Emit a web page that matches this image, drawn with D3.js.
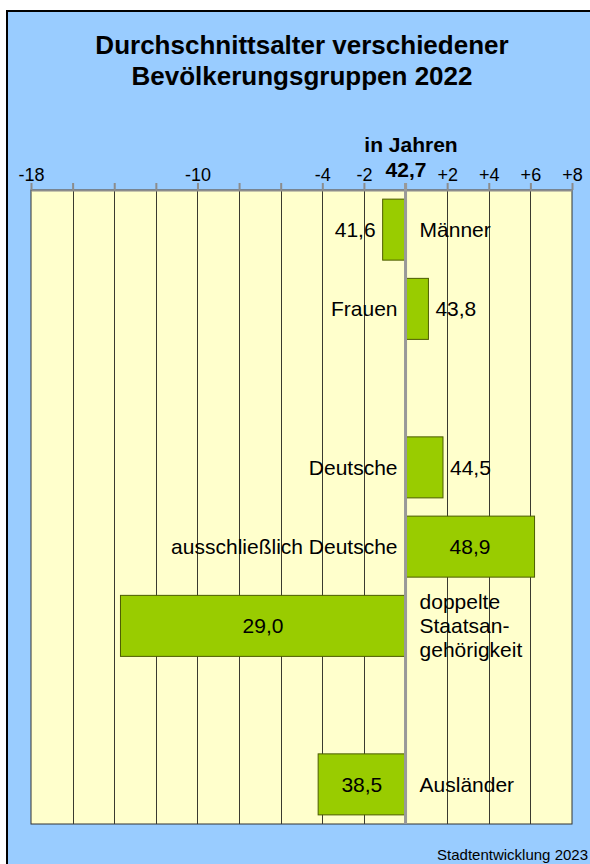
<!DOCTYPE html>
<html>
<head>
<meta charset="utf-8">
<script src="https://cdn.jsdelivr.net/npm/d3@7"></script>
<style>
  body { margin: 0; background: #fff; }
  text { font-family: Arial, "Liberation Sans", sans-serif; fill: #000; }
</style>
</head>
<body>
<div class="chartContainer"></div>
<script>
// ======= data ========
var categories = ["Männer", "Frauen", "Deutsche", "ausschließlich Deutsche", "doppelte|Staatsan-|gehörigkeit", "Ausländer"];
var ages = [41.6, 43.8, 44.5, 48.9, 29.0, 38.5];
var average = 42.7;
var groupStarts = ["Deutsche", "Ausländer"]; // an empty row comes before these
var gridValues = [-18, -16, -14, -12, -10, -8, -6, -4, -2, 0, 2, 4, 6, 8];
var tickLabels = ["-18", "", "", "", "-10", "", "", "-4", "-2", "42,7", "+2", "+4", "+6", "+8"];

var width = 590;
var height = 864;
var plotLeft = 31, plotRight = 572, plotTop = 190, plotBottom = 824;

var fmt = function(v){ return d3.format(".1f")(v).replace(".", ","); };

var data = categories.map(function(c, i){
    return { name: c, age: ages[i], diff: +(ages[i] - average).toFixed(1) };
});

// build the row list with the blank rows between groups
var rows = [];
categories.forEach(function(c, i){
    if (groupStarts.indexOf(c) >= 0) rows.push("gap" + i);
    rows.push(c);
});

var svg = d3.select(".chartContainer")
  .append("svg")
    .attr("width", width)
    .attr("height", height);

// background box
svg.append("rect")
    .attr("x", 7).attr("y", 11)
    .attr("width", 600).attr("height", 880)
    .style("fill", "#99ccff")
    .style("stroke", "#000")
    .style("stroke-width", 2);

// ======= title ========
var title = svg.append("text")
    .attr("x", 302)
    .attr("text-anchor", "middle")
    .style("font-size", "26px")
    .style("font-weight", "bold");
title.append("tspan").attr("x", 302).attr("y", 54).text("Durchschnittsalter verschiedener");
title.append("tspan").attr("x", 302).attr("y", 85).text("Bevölkerungsgruppen 2022");

svg.append("text")
    .attr("x", 411).attr("y", 152)
    .attr("text-anchor", "middle")
    .style("font-size", "21px")
    .style("font-weight", "bold")
    .text("in Jahren");

// ======= scales ========
var x = d3.scaleLinear()
    .domain([-18, 8])
    .range([plotLeft, plotRight]);

var y = d3.scaleBand()
    .domain(rows)
    .range([plotTop, plotBottom])
    .paddingInner(0.23)
    .paddingOuter(0.115);

// ======= plot area ========
svg.append("rect")
    .attr("x", plotLeft).attr("y", plotTop)
    .attr("width", plotRight - plotLeft).attr("height", plotBottom - plotTop)
    .style("fill", "#ffffcc")
    .style("stroke", "#333")
    .style("stroke-width", 1);

svg.append("g").attr("class", "grid")
  .selectAll("line")
    .data(gridValues.filter(function(v){ return v > -18 && v < 8 && v !== 0; }))
  .enter().append("line")
    .attr("x1", function(d){ return Math.round(x(d)) + 0.5; })
    .attr("x2", function(d){ return Math.round(x(d)) + 0.5; })
    .attr("y1", plotTop)
    .attr("y2", plotBottom)
    .style("stroke", "#3a3a30")
    .style("stroke-width", 1);

// ======= axis ========
var axis = d3.axisTop(x)
    .tickValues(gridValues)
    .tickSize(7)
    .tickSizeOuter(0)
    .tickPadding(2)
    .tickFormat(function(d, i){ return tickLabels[i]; });

var gAxis = svg.append("g")
    .attr("class", "axis")
    .attr("transform", "translate(0," + plotTop + ")")
    .call(axis);

gAxis.select(".domain").style("stroke", "#8c8c8c").style("stroke-width", 2);
gAxis.selectAll(".tick line").style("stroke", "#8c8c8c").style("stroke-width", 2);
gAxis.selectAll(".tick text")
    .style("font-family", "Arial, 'Liberation Sans', sans-serif")
    .style("font-size", "18px")
    .style("fill", "#000");
gAxis.selectAll(".tick text")
    .filter(function(d){ return d === 0; })
    .attr("y", -13)
    .style("font-size", "21px")
    .style("font-weight", "bold");

// ======= bars ========
svg.append("g").attr("class", "bars")
  .selectAll(".bar")
    .data(data)
  .enter().append("rect")
    .attr("class", "bar")
    .attr("x", function(d){ return x(Math.min(0, d.diff)); })
    .attr("y", function(d){ return y(d.name); })
    .attr("width", function(d){ return Math.abs(x(d.diff) - x(0)); })
    .attr("height", y.bandwidth())
    .style("fill", "#99cc00")
    .style("stroke", "#4c5c00")
    .style("stroke-width", 1);

// zero line (average)
svg.append("line")
    .attr("x1", x(0)).attr("x2", x(0))
    .attr("y1", plotTop - 7).attr("y2", plotBottom)
    .style("stroke", "#999")
    .style("stroke-width", 3);

// ======= labels ========
var labels = svg.append("g").attr("class", "labels").style("font-size", "21px");

data.forEach(function(d){
    var cy = y(d.name) + y.bandwidth() / 2;
    var neg = d.diff < 0;
    var inside = Math.abs(d.diff) > 3;

    // value
    var vx, va;
    if (inside) { vx = (x(d.diff) + x(0)) / 2; va = "middle"; }
    else if (neg) { vx = x(d.diff) - 7; va = "end"; }
    else { vx = x(d.diff) + 7; va = "start"; }
    labels.append("text")
        .attr("x", vx).attr("y", cy)
        .attr("dy", "0.35em")
        .attr("text-anchor", va)
        .text(fmt(d.age));

    // name, on the other side of the average line
    var lines = d.name.split("|");
    var nx = neg ? x(0) + 14 : x(0) - 8;
    var t = labels.append("text")
        .attr("text-anchor", neg ? "start" : "end");
    lines.forEach(function(l, i){
        t.append("tspan")
            .attr("x", nx)
            .attr("y", cy + (i - (lines.length - 1) / 2) * 24)
            .attr("dy", "0.35em")
            .text(l);
    });
});

// ======= footer ========
svg.append("text")
    .attr("x", 588).attr("y", 860)
    .attr("text-anchor", "end")
    .style("font-size", "15px")
    .text("Stadtentwicklung 2023");
</script>
</body>
</html>
